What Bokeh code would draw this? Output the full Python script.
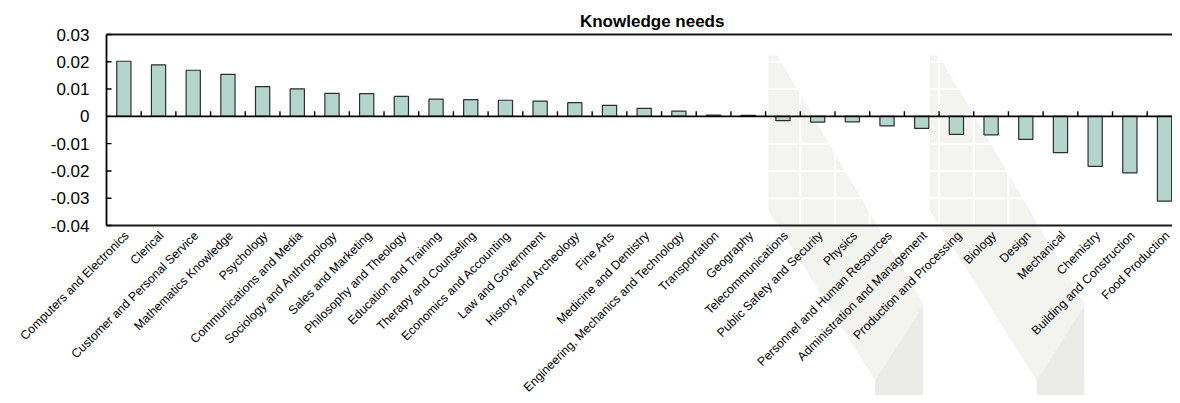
import math
from bokeh.plotting import figure
from bokeh.embed import file_html
from bokeh.resources import INLINE
from bokeh.models import Range1d, ColumnDataSource
from bokeh.core.properties import value

categories = [
    "Computers and Electronics", "Clerical", "Customer and Personal Service",
    "Mathematics Knowledge", "Psychology", "Communications and Media",
    "Sociology and Anthropology", "Sales and Marketing", "Philosophy and Theology",
    "Education and Training", "Therapy and Counseling", "Economics and Accounting",
    "Law and Government", "History and Archeology", "Fine Arts",
    "Medicine and Dentistry", "Engineering, Mechanics and Technology",
    "Transportation", "Geography", "Telecommunications",
    "Public Safety and Security", "Physics", "Personnel and Human Resources",
    "Administration and Management", "Production and Processing", "Biology",
    "Design", "Mechanical", "Chemistry", "Building and Construction",
    "Food Production",
]
values = [
    0.0202, 0.0189, 0.0169, 0.0154, 0.0109, 0.0101, 0.0084, 0.0083, 0.0073,
    0.0063, 0.0061, 0.0059, 0.0056, 0.0050, 0.0040, 0.0029, 0.0019,
    0.0005, 0.0004, -0.0016, -0.0021, -0.0020, -0.0035, -0.0044, -0.0066,
    -0.0068, -0.0084, -0.0133, -0.0183, -0.0207, -0.0311,
]
y_ticks = [0.03, 0.02, 0.01, 0, -0.01, -0.02, -0.03, -0.04]
y_tick_labels = ["0.03", "0.02", "0.01", "0", "-0.01", "-0.02", "-0.03", "-0.04"]
title_text = "Knowledge needs"

FONT = "Liberation Sans"
BAR_FILL = "#b3d5cc"
n = len(categories)
idx = list(range(n))
y_top, y_bot = max(y_ticks), min(y_ticks)

# pixel geometry (canvas pixels)
W, H = 1172, 395
LEFT, TOP, BOTTOM = 106, 34, 225        # value-area edges
ppc = 34.69                             # pixels per category
upp = (y_top - y_bot) / (BOTTOM - TOP)  # data units per pixel (vertical)
x_start = -0.5 - LEFT / ppc
x_end = -0.5 + (W - LEFT) / ppc
x_right = n - 0.5
y_end = y_top + TOP * upp
y_start = y_bot - (H - BOTTOM) * upp

p = figure(width=W, height=H, output_backend="svg", toolbar_location=None,
           x_axis_location=None, y_axis_location=None,
           x_range=Range1d(x_start, x_end), y_range=Range1d(y_start, y_end),
           min_border_left=0, min_border_right=0, min_border_top=0,
           min_border_bottom=0)
p.outline_line_color = None
p.background_fill_color = "white"
p.border_fill_color = "white"
p.xgrid.visible = False
p.ygrid.visible = False

# ---- decorative watermark logo in the background (canvas-pixel geometry)
def to_data(pts):
    xs = [-0.5 + (sx - LEFT) / 34.8 for sx, sy in pts]
    ys = [y_top - (sy - TOP) * upp for sx, sy in pts]
    return xs, ys

band_xs, band_ys, foot_xs, foot_ys = [], [], [], []
for dx in (0, 162):
    band = [(770 + dx, 55), (779 + dx, 55), (925 + dx, 303), (925 + dx, 305),
            (877 + dx, 380), (770 + dx, 210)]
    foot = [(925 + dx, 305), (925 + dx, 420), (877 + dx, 420), (877 + dx, 380)]
    a, b = to_data(band)
    c, d = to_data(foot)
    band_xs.append(a); band_ys.append(b)
    foot_xs.append(c); foot_ys.append(d)
p.patches(xs=band_xs, ys=band_ys, fill_color="#f3f3f0", line_color=None)
p.patches(xs=foot_xs, ys=foot_ys, fill_color="#ebebe8", line_color=None)

# ---- white grid lines over the value area
bounds = [i + 0.5 for i in idx[:-1]]
p.segment(x0=bounds, x1=bounds, y0=[y_bot] * len(bounds), y1=[y_top] * len(bounds),
          line_color="white", line_width=2)
p.segment(x0=[-0.5] * len(y_ticks), x1=[x_right] * len(y_ticks), y0=y_ticks,
          y1=y_ticks, line_color="white", line_width=2)

# ---- bars
src = ColumnDataSource(dict(x=idx, top=values, name=categories))
p.vbar(x="x", top="top", bottom=0, width=0.41, source=src,
       fill_color=BAR_FILL, line_color="#2e2e2e", line_width=1.2)

# ---- frame lines: top border, bottom line, left axis line, zero line
p.segment(x0=[-0.5, -0.5], x1=[x_right, x_right], y0=[y_top, y_bot],
          y1=[y_top, y_bot], line_color="#1a1a1a", line_width=1.8)
p.segment(x0=[-0.5], x1=[-0.5], y0=[y_bot], y1=[y_top], line_color="black",
          line_width=1.8)
p.segment(x0=[-0.5], x1=[x_right], y0=[0], y1=[0], line_color="black",
          line_width=1.7)
# category tick marks on the zero line (pointing up)
p.segment(x0=bounds, x1=bounds, y0=[0] * len(bounds), y1=[5 * upp] * len(bounds),
          line_color="black", line_width=1.4)

# ---- value axis: inward ticks and labels
p.segment(x0=[-0.5] * len(y_ticks), x1=[-0.5 + 5 / ppc] * len(y_ticks),
          y0=y_ticks, y1=y_ticks, line_color="black", line_width=1.4)
p.text(x=[-0.5] * len(y_ticks), y=y_ticks, text=y_tick_labels, text_align="right",
       text_baseline="middle", x_offset=-17, y_offset=0, text_font=value(FONT),
       text_font_size="17px", text_color="black")

# ---- category labels, rotated, below the value area
p.text(x=idx, y=[y_bot] * n, text=categories, angle=math.pi / 4,
       text_align="right", text_baseline="middle", x_offset=3, y_offset=8,
       text_font=value(FONT), text_font_size="12.3px", text_color="black")

# ---- title
p.text(x=[(n - 1) / 2], y=[y_top], text=[title_text], text_align="center",
       text_baseline="middle", x_offset=8, y_offset=-13, text_font=value(FONT),
       text_font_size="17px", text_font_style="bold", text_color="black")

open("out.html", "w").write(file_html(p, INLINE))
